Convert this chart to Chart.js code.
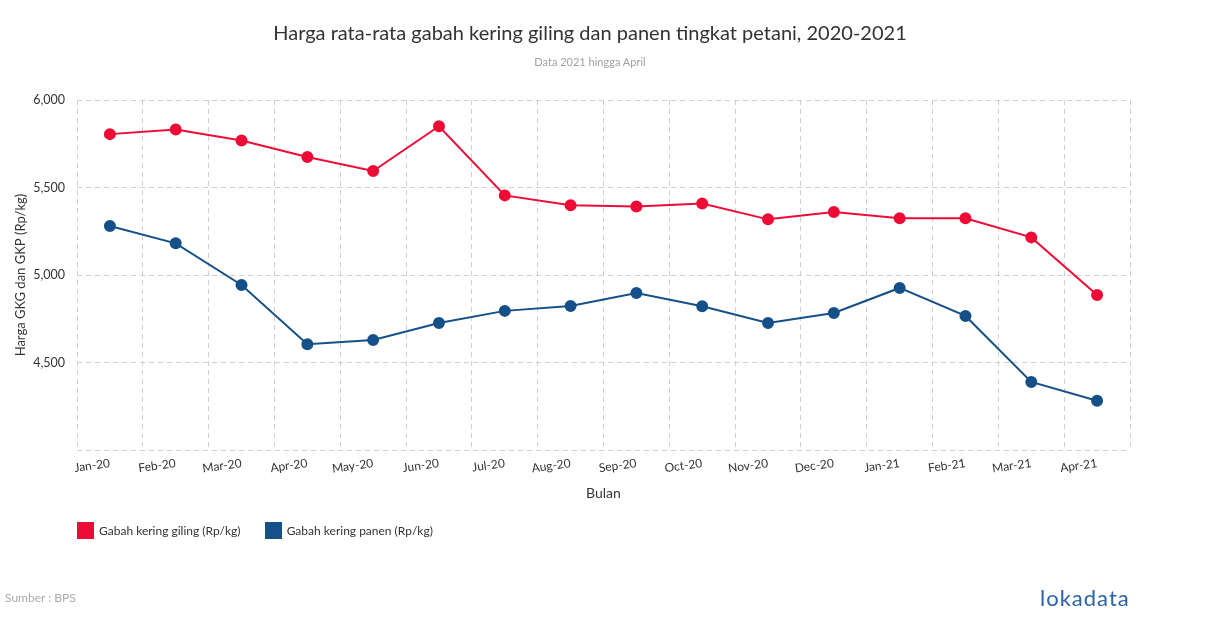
<!DOCTYPE html>
<html>
<head>
<meta charset="utf-8">
<script src="https://cdn.jsdelivr.net/npm/chart.js@4"></script>
<style>
  html, body { margin: 0; padding: 0; background: #fff; }
  #wrap { position: relative; width: 1210px; height: 628px; font-family: Lato, 'Open Sans', sans-serif; color: #333; }
  #myChart { position: absolute; left: 0; top: 0; }
  .title { position: absolute; left: 0; width: 1180px; top: 20px; text-align: center; font-size: 20px; color: #333; }
  .subtitle { position: absolute; left: 0; width: 1180px; top: 55px; text-align: center; font-size: 11px; color: #a0a0a0; }
  .legend { position: absolute; top: 522px; left: 77px; font-size: 12px; color: #333; }
  .legend span.item { display: inline-flex; align-items: center; margin-right: 21px; }
  .legend i { display: inline-block; width: 17px; height: 17px; margin-right: 5px; }
  .source { position: absolute; left: 5px; top: 590px; font-size: 12px; color: #aaa; }
  .logo { position: absolute; left: 1040px; top: 584px; font-size: 22px; color: #2b62a8; letter-spacing: 1px; }
</style>
</head>
<body>
<div id="wrap">
  <canvas id="myChart" width="1210" height="628"></canvas>
  <div class="title">Harga rata-rata gabah kering giling dan panen tingkat petani, 2020-2021</div>
  <div class="subtitle">Data 2021 hingga April</div>
  <div class="legend">
    <span class="item"><i style="background:#ee0b35"></i>Gabah kering giling (Rp/kg)</span>
    <span class="item"><i style="background:#155089"></i>Gabah kering panen (Rp/kg)</span>
  </div>
  <div class="source">Sumber : BPS</div>
  <div class="logo">lokadata</div>
</div>
<script>
/* kategori bulan */
const months = ['Jan-20', 'Feb-20', 'Mar-20', 'Apr-20', 'May-20', 'Jun-20', 'Jul-20', 'Aug-20',
  'Sep-20', 'Oct-20', 'Nov-20', 'Dec-20', 'Jan-21', 'Feb-21', 'Mar-21', 'Apr-21'];

/* Gabah kering giling (Rp/kg) */
const gkg = [5805, 5832, 5769, 5674, 5594, 5850, 5455, 5398, 5392, 5409, 5318, 5360, 5324, 5324, 5215, 4886];

/* Gabah kering panen (Rp/kg) */
const gkp = [5280, 5181, 4943, 4604, 4629, 4726, 4795, 4823, 4897, 4821, 4726, 4783, 4926, 4766, 4389, 4281];

/* y ticks (4000 = garis bawah tanpa label) */
const yTicks = [4000, 4500, 5000, 5500, 6000];

const seriesNames = ['Gabah kering giling (Rp/kg)', 'Gabah kering panen (Rp/kg)'];

const gridColor = '#d0d0d0';
const dash = [5, 4];
const font = { family: 'Lato', size: 12 };

const data = {
  labels: months,
  datasets: [
    {
      label: seriesNames[0],
      data: gkg,
      borderColor: '#ee0b35',
      backgroundColor: '#ee0b35',
      borderWidth: 2,
      pointRadius: 5,
      pointHoverRadius: 5,
    },
    {
      label: seriesNames[1],
      data: gkp,
      borderColor: '#155089',
      backgroundColor: '#155089',
      borderWidth: 2,
      pointRadius: 5,
      pointHoverRadius: 5,
    },
  ],
};

const config = {
  type: 'line',
  data: data,
  options: {
    responsive: false,
    animation: false,
    layout: { padding: { top: 100, left: 0, right: 80, bottom: 118 } },
    plugins: {
      legend: { display: false },
      tooltip: { enabled: false },
    },
    scales: {
      x: {
        offset: true,
        /* garis grid putus-putus: di v4 border.dash dipakai untuk grid */
        grid: { offset: true, color: gridColor, drawTicks: false },
        border: { display: false, dash: dash },
        ticks: {
          color: '#333',
          font: font,
          autoSkip: false,
          minRotation: 8,
          maxRotation: 8,
          padding: 6,
        },
        title: {
          display: true,
          text: 'Bulan',
          color: '#333',
          font: { family: 'Lato', size: 14 },
          padding: { top: 0, bottom: 8 },
        },
        afterFit: (scale) => { scale.height = 60; },
      },
      y: {
        min: 4000,
        max: 6000,
        grid: { color: gridColor, drawTicks: false },
        border: { display: false, dash: dash },
        afterBuildTicks: (scale) => { scale.ticks = yTicks.map((v) => ({ value: v })); },
        ticks: {
          color: '#333',
          font: { family: 'Lato', size: 12.5 },
          padding: 12,
          callback: (v) => (v === 4000 ? '' : v.toLocaleString('en-US')),
        },
        title: {
          display: true,
          text: 'Harga GKG dan GKP (Rp/kg)',
          color: '#333',
          font: { family: 'Lato', size: 13 },
          padding: { top: 13, bottom: 0 },
        },
        afterFit: (scale) => { scale.width = 77; },
      },
    },
  },
};

const chartGraph = document.querySelector('#myChart');
Chart.defaults.font.family = 'Lato';

new Chart(chartGraph, config);
</script>
</body>
</html>
